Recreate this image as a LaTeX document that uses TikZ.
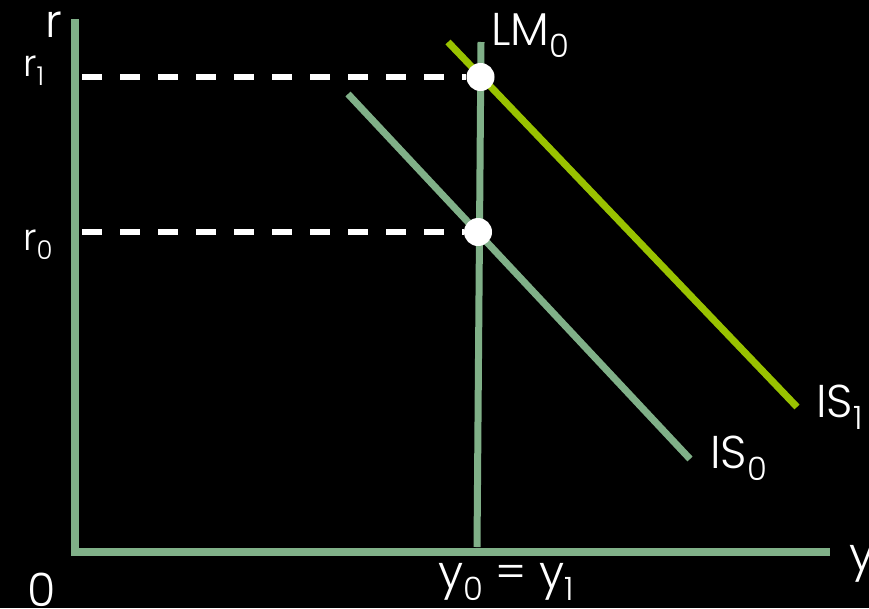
\documentclass[tikz,border=0pt]{standalone}
\usepackage{fontspec}
\setmainfont{Poppins Light}
\definecolor{axiscol}{RGB}{128,176,136}
\definecolor{iscol}{RGB}{153,194,0}
\newcommand\lowsub[1]{\raisebox{-0.27em}{\scalebox{0.7}{#1}}}
\begin{document}
\begin{tikzpicture}[x=1pt,y=-1pt,
  axisline/.style={draw=axiscol,line width=8pt},
  curveline/.style={draw=axiscol,line width=7pt},
  shiftline/.style={draw=iscol,line width=7pt},
  guide/.style={draw=white,line width=6pt,dash pattern=on 20pt off 18pt},
  dot/.style={circle,fill=white,minimum size=28pt,inner sep=0pt},
  lbl/.style={text=white,inner sep=0pt,anchor=base west,font=\fontsize{46}{50}\selectfont},
  smlbl/.style={text=white,inner sep=0pt,anchor=base west,font=\fontsize{37}{40}\selectfont}]
\fill[black] (0,0) rectangle (869,608);
\useasboundingbox (0,0) rectangle (869,608);
% axes
\coordinate (ytop) at (75,19);
\coordinate (yend) at (75,555);
\coordinate (xstart) at (71,552);
\coordinate (xend) at (830,552);
\draw[axisline] (ytop) -- (yend);
\draw[axisline] (xstart) -- (xend);
% curves
\coordinate (lmtop) at (481,42);
\coordinate (lmbot) at (477,547);
\coordinate (is0a) at (348,94);
\coordinate (is0b) at (690,459);
\coordinate (is1a) at (448,42);
\coordinate (is1b) at (797,407);
\draw[curveline] (lmtop) -- (lmbot);
\draw[curveline] (is0a) -- (is0b);
\draw[shiftline] (is1a) -- (is1b);
% points
\node[dot] (p1) at (480.5,77) {};
\node[dot] (p0) at (478,232) {};
\coordinate (g1) at (82,77);
\coordinate (g0) at (82,232);
\draw[guide] (g1) -- (p1.west);
\draw[guide] (g0) -- (p0.west);
% labels
\node[lbl] (lr) at (45,37) {r};
\node[smlbl] (lr1) at (23,76) {r\lowsub{1}};
\node[smlbl] (lr0) at (23,250) {r\lowsub{0}};
\node[lbl] (lo) at (27,606) {0};
\node[lbl] (ly) at (849,570) {y};
\node[lbl] (lyy) at (438,588) {y\lowsub{0} = y\lowsub{1}};
\node[lbl] (llm) at (491,45) {LM\lowsub{0}};
\node[lbl] (lis1) at (816,417) {IS\lowsub{1}};
\node[lbl] (lis0) at (710,468) {IS\lowsub{0}};
\end{tikzpicture}
\end{document}
